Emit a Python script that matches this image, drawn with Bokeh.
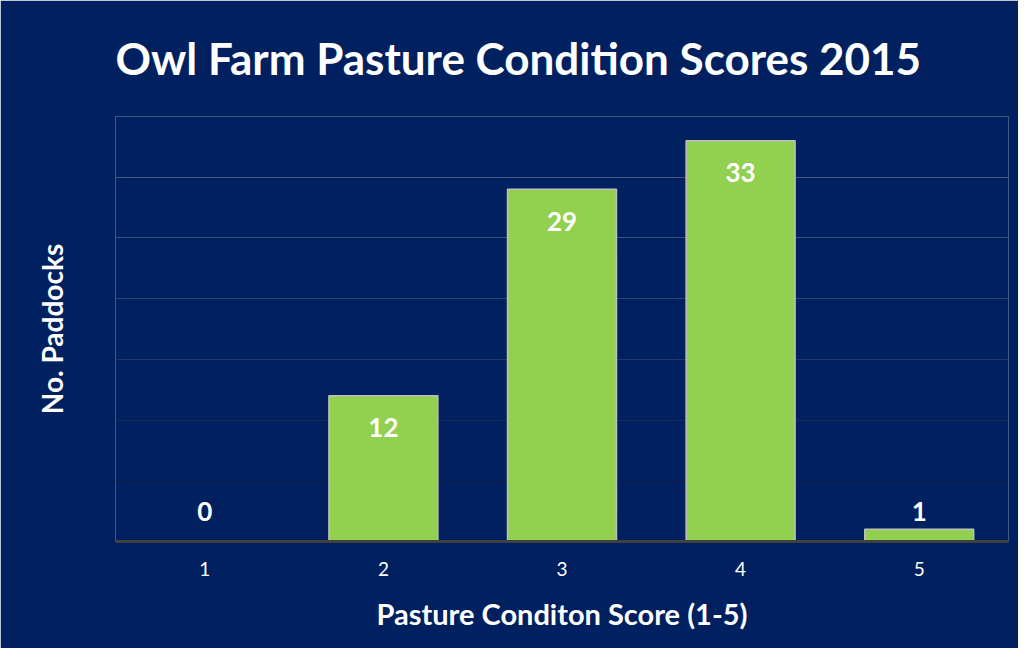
from bokeh.plotting import figure
from bokeh.models import ColumnDataSource, FixedTicker, Grid
from bokeh.core.properties import value
from bokeh.embed import file_html
from bokeh.resources import INLINE

# ---- data ----
scores = ["1", "2", "3", "4", "5"]
paddocks = [0, 12, 29, 33, 1]
grid_levels = [5, 10, 15, 20, 25, 30, 35]
grid_colors = ["#10204A", "#182A56", "#243662", "#30426E", "#3C4E7A", "#465884", "#4E608A"]

title_text = "Owl Farm Pasture Condition Scores 2015"
x_title = "Pasture Conditon Score (1-5)"
y_title = "No. Paddocks"

NAVY = "#002060"
FONT = "Lato"

label_y = [v if v >= 5 else 0 for v in paddocks]
label_off = [32 if v >= 5 else -30 for v in paddocks]

src = ColumnDataSource(dict(score=scores, paddocks=paddocks,
                            ly=label_y, loff=label_off,
                            lbl=[str(v) for v in paddocks]))

p = figure(x_range=scores, y_range=(0, 35), width=1018, height=648,
           output_backend="svg", toolbar_location=None,
           min_border_left=115, min_border_right=10,
           min_border_top=115, min_border_bottom=107,
           background_fill_color=NAVY, border_fill_color=NAVY,
           outline_line_color=None)

p.xgrid.visible = False
p.ygrid.visible = False
for lvl, c in zip(grid_levels, grid_colors):
    g = Grid(dimension=1, ticker=FixedTicker(ticks=[lvl]),
             grid_line_color=c, grid_line_width=1)
    p.add_layout(g, "center")

p.vbar(x="score", top="paddocks", width=0.61, source=src,
       fill_color="#92D050", line_color="#BFBFBF", line_width=1.5)

p.text(x="score", y="ly", text="lbl", y_offset="loff", source=src,
       text_color="white", text_font=value(FONT), text_font_style="bold",
       text_font_size="26px", text_align="center", text_baseline="middle")

# title
p.title.text = title_text
p.title.text_font = FONT
p.title.text_font_style = "bold"
p.title.text_font_size = "44px"
p.title.text_color = "white"
p.title.align = "left"
p.title.vertical_align = "top"
p.title.standoff = 62

# x axis
xa = p.xaxis[0]
xa.axis_label = x_title
xa.axis_label_text_font = FONT
xa.axis_label_text_font_style = "bold"
xa.axis_label_text_font_size = "29px"
xa.axis_label_text_color = "white"
xa.axis_label_standoff = 17
xa.major_label_text_font = FONT
xa.major_label_text_font_size = "19px"
xa.major_label_text_color = "white"
xa.major_label_standoff = 14
xa.major_tick_line_color = None
xa.minor_tick_line_color = None
xa.axis_line_color = "#404040"
xa.axis_line_width = 3

# y axis (no tick labels, only the title)
ya = p.yaxis[0]
ya.ticker = FixedTicker(ticks=[])
ya.axis_label = y_title
ya.axis_label_text_font = FONT
ya.axis_label_text_font_style = "bold"
ya.axis_label_text_font_size = "28px"
ya.axis_label_text_color = "white"
ya.axis_label_standoff = 47
ya.major_tick_line_color = None
ya.minor_tick_line_color = None
ya.axis_line_color = None

open("out.html", "w").write(file_html(p, INLINE))
